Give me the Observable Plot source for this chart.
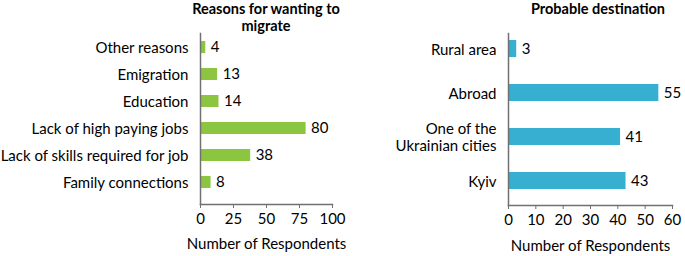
<!DOCTYPE html>
<html><head><meta charset="utf-8">
<script src="https://cdn.jsdelivr.net/npm/d3@7"></script>
<script src="https://cdn.jsdelivr.net/npm/@observablehq/plot@0.6"></script>
<style>
body{margin:0;background:#fff;}
#wrap{position:relative;width:685px;height:256px;font-family:Lato,sans-serif;color:#000;}
.panel{position:absolute;top:0;}
.title{position:absolute;font-weight:bold;font-size:14.5px;text-align:center;line-height:17px;top:0px;}
</style></head><body><div id="wrap"></div>
<script>
const reasons = ["Other reasons","Emigration","Education","Lack of high paying jobs","Lack of skills required for job","Family connections"];
const reasonCounts = [4,13,14,80,38,8];
const reasonTicks = [0,25,50,75,100];
const destinations = ["Rural area","Abroad","One of the\nUkrainian cities","Kyiv"];
const destinationCounts = [3,55,41,43];
const destinationTicks = [0,10,20,30,40,50,60];

const axisGray = "#707070";
const font = {fontFamily:"Lato, sans-serif", fontSize:"15px", color:"#000", background:"transparent", overflow:"visible"};

function panel(cats, vals, ticks, opts) {
  const data = cats.map((k,i)=>({k, v: vals[i]}));
  return Plot.plot({
    width: opts.width, height: 256,
    marginLeft: opts.ml, marginRight: opts.mr, marginTop: 33, marginBottom: opts.mb,
    style: font,
    x: {domain: [ticks[0], ticks[ticks.length-1]]},
    y: {domain: cats, range: opts.yrange, paddingInner: opts.pad, paddingOuter: 0},
    marks: [
      Plot.barX(data, {x: "v", y: "k", fill: opts.fill}),
      Plot.text(data, {x: "v", y: "k", text: d => String(d.v), textAnchor: "start", dx: 5, fontSize: 15, fill: "#000"}),
      Plot.axisY({tickSize: 0, tickPadding: 12, label: null, fontSize: 15, lineHeight: 1.15}),
      Plot.axisX({ticks: ticks, tickSize: 4, tickPadding: 5, stroke: axisGray, fill: "#000", fontSize: 15,
                  label: "Number of Respondents", labelAnchor: "center", labelArrow: "none", labelOffset: opts.lo}),
      Plot.frame({anchor: "left", stroke: axisGray, strokeWidth: 1.5}),
      Plot.frame({anchor: "bottom", stroke: axisGray, strokeWidth: 1.5})
    ]
  });
}

const wrap = document.getElementById("wrap");
const left = panel(reasons, reasonCounts, reasonTicks, {width: 345, ml: 200, mr: 13, mb: 52, yrange: [40.3, 188.9], pad: 0.54, fill: "#8cc540", lo: 44});
left.classList.add("panel"); left.style.left = "0px";
const right = panel(destinations, destinationCounts, destinationTicks, {width: 340, ml: 163, mr: 13, mb: 51, yrange: [39.2, 190.8], pad: 0.61, fill: "#36afd0", lo: 45});
right.classList.add("panel"); right.style.left = "345px";
wrap.appendChild(left); wrap.appendChild(right);

const t1 = document.createElement("div");
t1.className = "title"; t1.style.left = "184px"; t1.style.width = "164px";
t1.textContent = "Reasons for wanting to migrate";
const t2 = document.createElement("div");
t2.className = "title"; t2.style.left = "513px"; t2.style.width = "170px";
t2.textContent = "Probable destination";
wrap.appendChild(t1); wrap.appendChild(t2);
</script></body></html>
